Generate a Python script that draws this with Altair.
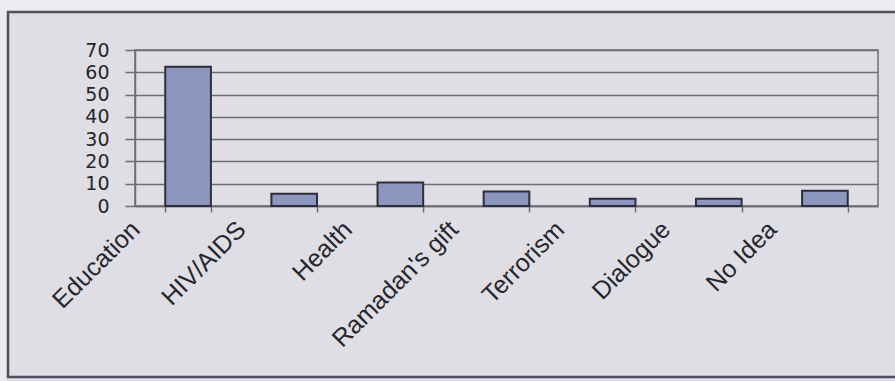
import altair as alt
import pandas as pd

categories = ["Education", "HIV/AIDS", "Health", "Ramadan's gift", "Terrorism", "Dialogue", "No Idea"]
values = [62.5, 5.5, 10.5, 6.5, 3.3, 3.3, 6.8]
y_ticks = [0, 10, 20, 30, 40, 50, 60, 70]

df = pd.DataFrame({"category": categories, "value": values})
one = pd.DataFrame({"k": [0]})

W, H = 743, 156
PL, PT = 135, 50
GRID = "#6e6e76"
TXT = "#26262c"

bars = alt.Chart(df).mark_bar(fill="#8c96be", stroke="#2d2d3c", strokeWidth=2).encode(
    x=alt.X("category:N", sort=categories, title=None,
            scale=alt.Scale(paddingInner=0.57, paddingOuter=0.285),
            axis=alt.Axis(labelAngle=-45, labelAlign="right", labelBaseline="middle",
                          labelOffset=-53, tickBand="extent", tickSize=6,
                          labelPadding=13, labelFontSize=25, labelFont="Liberation Sans",
                          labelColor=TXT, domainColor=GRID, tickColor=GRID,
                          domainWidth=1.5, tickWidth=1.5, grid=False, labelLimit=300)),
    y=alt.Y("value:Q", title=None, scale=alt.Scale(domain=[0, 70], nice=False),
            axis=alt.Axis(values=y_ticks, tickSize=10, labelPadding=16, labelFontSize=19,
                          labelFont="DejaVu Sans", labelColor=TXT,
                          domainColor=GRID, tickColor=GRID, gridColor=GRID,
                          domainWidth=1.5, tickWidth=1.5, gridWidth=1.5, grid=True)),
)

# decorative frame around the whole figure (photo border)
top_strip = alt.Chart(one).mark_rect(fill="#ececf0").encode(
    x=alt.value(-PL), x2=alt.value(895 - PL), y=alt.value(-PT), y2=alt.value(11 - PT))
left_strip = alt.Chart(one).mark_rect(fill="#ececf0").encode(
    x=alt.value(-PL), x2=alt.value(7 - PL), y=alt.value(-PT), y2=alt.value(381 - PT))
frame = alt.Chart(one).mark_rect(fill=None, filled=False, stroke="#4e4e5c", strokeWidth=2.5).encode(
    x=alt.value(8 - PL), x2=alt.value(900 - PL), y=alt.value(12 - PT), y2=alt.value(377 - PT))

chart = alt.layer(top_strip, left_strip, frame, bars).properties(
    width=W, height=H,
    autosize=alt.AutoSizeParams(type="none"),
    padding={"left": PL, "top": PT, "right": 895 - PL - W, "bottom": 381 - PT - H},
    background="#dedee4",
).configure_view(stroke=GRID, strokeWidth=1.5)

chart.save("out.html", embed_options={"renderer": "svg", "actions": False})
